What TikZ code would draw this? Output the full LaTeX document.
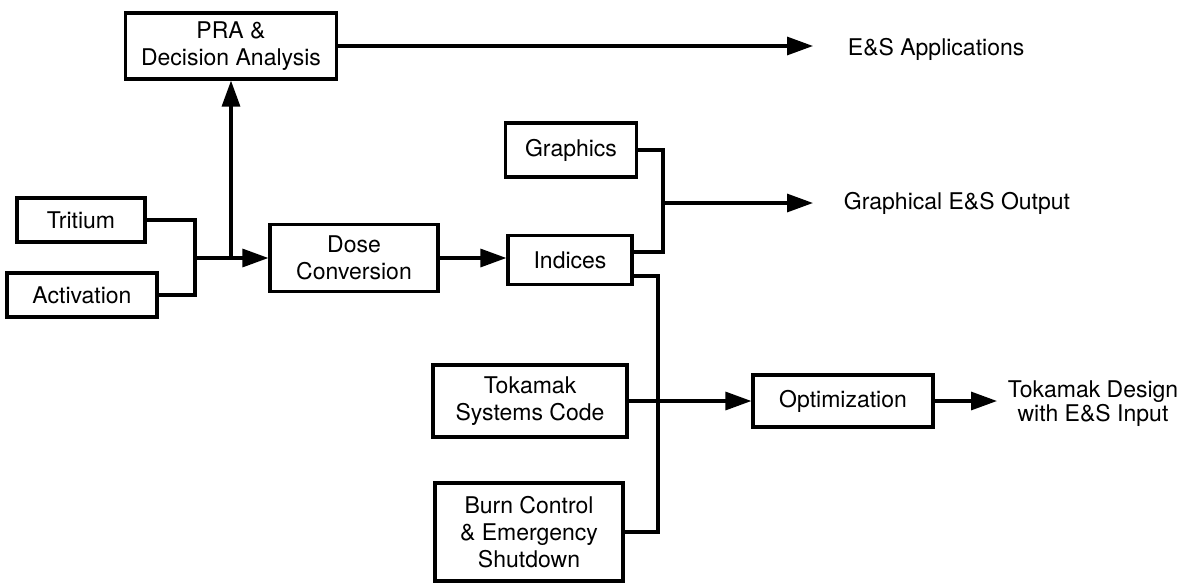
\documentclass[tikz,border=0pt]{standalone}
\usepackage{fontspec}
\setmainfont{TeX Gyre Heros}
\usepackage{tikz}
\usetikzlibrary{arrows.meta}
\tikzset{every node/.append style={font=\fontsize{23}{27}\selectfont}}

\begin{document}
\begin{tikzpicture}[x=1pt, y=-1pt, line width=3.2pt,
    block/.style={draw, align=center, inner sep=0pt},
    flow/.style={-{Triangle[length=26pt, width=18pt]}}]
    \useasboundingbox (0,0) rectangle (1193,584);
    % source boxes
    \node[block, minimum width=211pt, minimum height=66pt] (pra) at (231,46) {PRA \&\\Decision Analysis};
    \node[block, minimum width=128pt, minimum height=44pt] (trit) at (81,220) {Tritium};
    \node[block, minimum width=150pt, minimum height=44pt] (activ) at (82,295) {Activation};
    \node[block, minimum width=168pt, minimum height=67pt] (dose) at (354,258) {Dose\\Conversion};
    \node[block, minimum width=131pt, minimum height=54pt] (gfx) at (571,150) {Graphics};
    \node[block, minimum width=124pt, minimum height=49pt] (ind) at (570,260) {Indices};
    \node[block, minimum width=194pt, minimum height=72pt] (tsc) at (530,401) {Tokamak\\Systems Code};
    \node[block, minimum width=188pt, minimum height=98pt] (burn) at (529,532) {Burn Control\\\& Emergency\\Shutdown};
    \node[block, minimum width=180pt, minimum height=52pt] (opt) at (843,401) {Optimization};
    % outputs on the right
    \node[anchor=west] (esapp) at (843,49) {E\&S Applications};
    \node[anchor=west] (gout) at (839,203) {Graphical E\&S Output};
    \node[align=center, font=\fontsize{23}{24}\selectfont] (tdes) at (1093,404) {Tokamak Design\\with E\&S Input};
    % junction points
    \coordinate (join) at (195,258);
    \coordinate (tap) at (231,258);
    \coordinate (gjoin) at (663,203);
    \coordinate (ibus) at (658,401);
    \coordinate (appEnd) at (813,46);
    \coordinate (gend) at (813,203);
    \coordinate (dend) at (997,401);
    % connectors
    \draw (trit.east) -| (join) |- (activ.east);
    \draw[flow] (join) -- (dose.west);
    \draw[flow] (tap) -- (pra.south);
    \draw[flow] (pra.east) -- (appEnd);
    \draw[flow] (dose.east) -- (dose.east -| ind.west);
    \draw (gfx.east) -| (gjoin) |- ([yshift=8pt]ind.east);
    \draw[flow] (gjoin) -- (gend);
    \draw ([yshift=-16pt]ind.east) -| (ibus) |- (burn.east);
    \draw[flow] (tsc.east) -- (opt.west);
    \draw[flow] (opt.east) -- (dend);
\end{tikzpicture}
\end{document}
